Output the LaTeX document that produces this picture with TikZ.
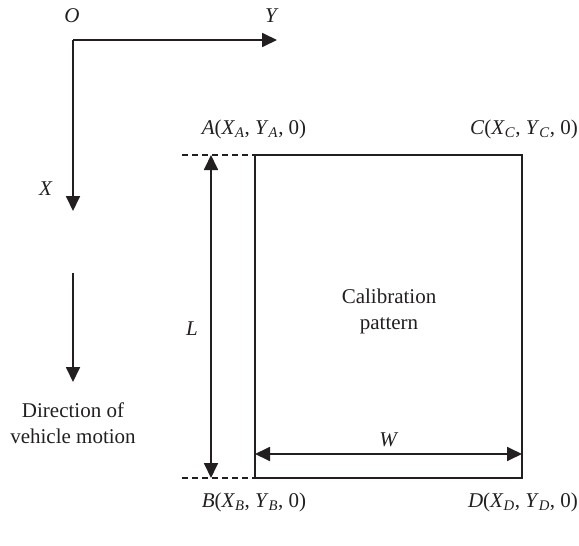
\documentclass[tikz,border=0pt]{standalone}
\usepackage{fontspec}
\setmainfont{Liberation Serif}
\usetikzlibrary{arrows.meta}
\definecolor{ink}{HTML}{231F20}
\newcommand{\vsub}[2]{\textit{#1}\textsubscript{\textit{#2}}}
\begin{document}
\begin{tikzpicture}[x=1pt,y=-1pt,
  line width=1.8pt, color=ink,
  arr/.style={-{Triangle[width=14pt,length=15pt]}},
  darr/.style={{Triangle[width=14pt,length=15pt]}-{Triangle[width=14pt,length=15pt]}},
  lbl/.style={font=\fontsize{21}{24}\selectfont, inner sep=0pt, text=ink},
  two/.style={align=center, font=\fontsize{21}{26}\selectfont},
  dsh/.style={dashed, dash pattern=on 6pt off 4pt, line width=1.5pt}]
\useasboundingbox (0,0) rectangle (579,546);
% axes
\coordinate (O) at (73,40);
\coordinate (Yend) at (277,40);
\coordinate (Xend) at (73,211);
\draw[arr] (Yend -| O) -- (Yend);
\draw[arr] (O) -- (Xend);
\node[lbl] (Olbl) at (72,16) {\textit{O}};
\node[lbl] (Ylbl) at (272,16) {\textit{Y}};
\node[lbl] (Xlbl) at (46,189) {\textit{X}};
% direction
\coordinate (d1) at (73,273);
\coordinate (d2) at (73,382);
\draw[arr] (d1) -- (d2);
\node[lbl, two] (dir) at (73,423) {Direction of\\vehicle motion};
% rectangle
\coordinate (A) at (255,155);
\coordinate (C) at (522,155);
\coordinate (B) at (255,478);
\coordinate (D) at (522,478);
\draw (A) -- (C) -- (D) -- (B) -- cycle;
\coordinate (Ad) at (182,155);
\coordinate (Bd) at (182,478);
\draw[dsh] (Ad) -- (A);
\draw[dsh] (Bd) -- (B);
% L
\coordinate (L1) at (211,155);
\coordinate (L2) at (211,478);
\draw[darr] (L1) -- (L2);
\node[lbl] (Llbl) at (192,329) {\textit{L}};
% W
\coordinate (W1) at (255,454);
\coordinate (W2) at (522,454);
\draw[darr] (W1) -- (W2);
\node[lbl] (Wlbl) at (389,440) {\textit{W}};
\node[lbl, two] (cal) at (389,311) {Calibration\\pattern};
% corner labels
\node[lbl] (Albl) at (254,129) {\textit{A}(\vsub{X}{A}, \vsub{Y}{A}, 0)};
\node[lbl] (Clbl) at (524,129) {\textit{C}(\vsub{X}{C}, \vsub{Y}{C}, 0)};
\node[lbl] (Blbl) at (254,502) {\textit{B}(\vsub{X}{B}, \vsub{Y}{B}, 0)};
\node[lbl] (Dlbl) at (523,502) {\textit{D}(\vsub{X}{D}, \vsub{Y}{D}, 0)};
\end{tikzpicture}
\end{document}
